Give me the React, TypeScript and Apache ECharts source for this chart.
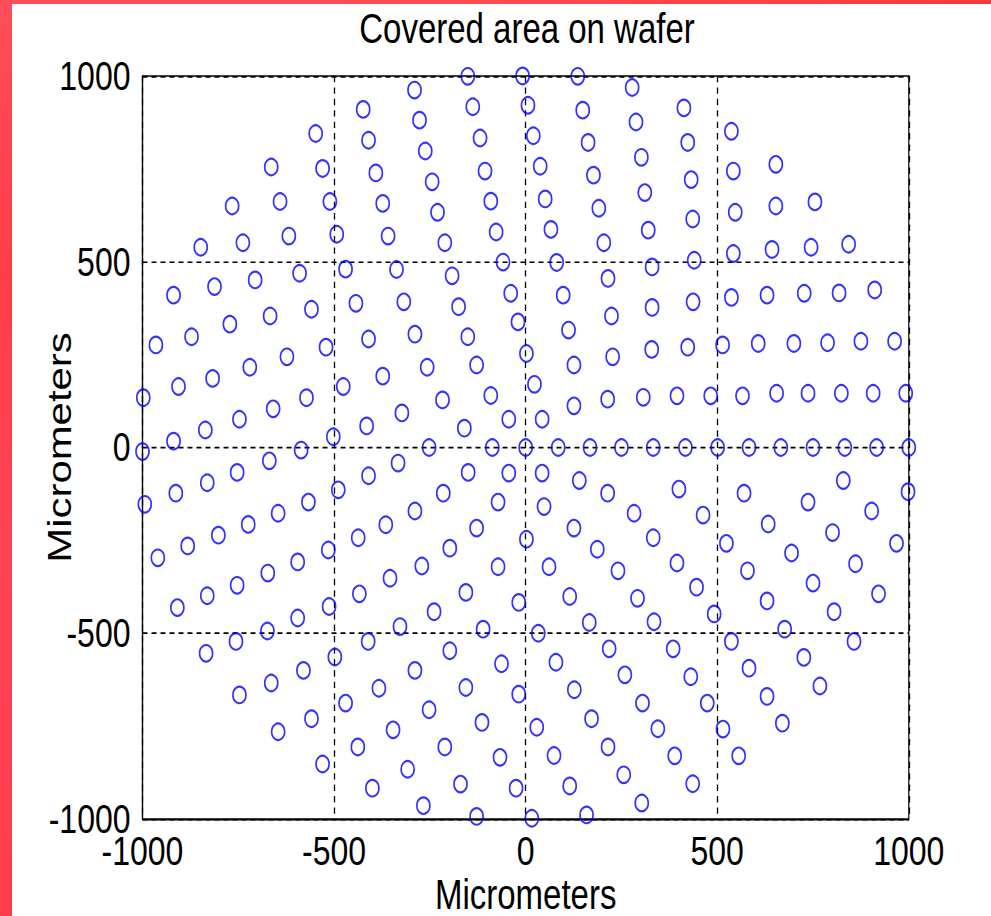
import React, { useEffect, useRef } from "react";
import * as echarts from "echarts";

// Axis ticks (micrometers)
const axisMin = -1000;
const axisMax = 1000;
const axisStep = 500;

// Point positions in micrometers, grouped by vertical band
const upperPoints: number[][] = [
  [-424, 910], [-548, 845], [-410, 827], [-664, 755], [-530, 751], [-391, 739], [-766, 650], [-641, 662], [-511, 662], [-373, 657],
  [-848, 539], [-738, 551], [-618, 569], [-493, 574], [-359, 569], [-919, 410], [-812, 433], [-706, 451], [-590, 469], [-470, 480],
  [-337, 479], [-443, 388], [-559, 372], [-667, 354], [-772, 332], [-151, 999], [-8, 1000], [136, 999], [278, 969], [-290, 962],
  [-138, 917], [6, 921], [149, 908], [288, 876], [-277, 881], [-119, 833], [20, 839], [163, 821], [302, 781], [-262, 798],
  [-106, 744], [38, 757], [177, 733], [311, 686], [-244, 715], [-91, 663], [51, 669], [191, 644], [320, 585], [-230, 633],
  [-77, 580], [66, 587], [204, 551], [-211, 551], [-59, 499], [81, 498], [330, 486], [-192, 462], [-39, 415], [98, 410],
  [215, 455], [-318, 392], [-175, 379], [-20, 338], [224, 354], [330, 377], [413, 914], [537, 851], [423, 821], [653, 762],
  [542, 744], [432, 721], [755, 661], [653, 650], [547, 633], [436, 615], [843, 547], [745, 539], [643, 533], [542, 522],
  [440, 504], [911, 424], [818, 416], [727, 415], [630, 410], [537, 404], [437, 392],
];

const middlePoints: number[][] = [
  [-965, 276], [-872, 298], [-521, 270], [-410, 292], [-906, 164], [-817, 186], [-720, 216], [-623, 244], [-476, 164], [-373, 192],
  [-998, 134], [-572, 134], [-659, 104], [-747, 76], [-836, 47], [-919, 17], [-1000, -11], [-586, -7], [-502, 29], [-415, 58],
  [-323, 93], [-669, -36], [-753, -67], [-831, -95], [-913, -123], [-994, -153], [-489, -114], [-410, -76], [-333, -42], [-567, -147],
  [-646, -177], [-724, -207], [-802, -236], [-882, -265], [-960, -297], [-365, -208], [-437, -243], [-515, -276], [-595, -308], [-673, -338],
  [-289, 305], [-151, 298], [112, 316], [329, 264], [-257, 216], [-128, 222], [2, 253], [126, 222], [227, 244], [-217, 128],
  [-91, 140], [23, 170], [126, 112], [214, 130], [307, 135], [-160, 52], [-44, 76], [43, 76], [-252, 0], [-87, 0],
  [0, 0], [85, 0], [168, 0], [250, 0], [333, 0], [-150, -67], [-44, -69], [43, -69], [140, -89], [214, -123],
  [-215, -123], [-72, -147], [48, -159], [283, -177], [-289, -171], [-128, -217], [2, -247], [126, -217], [333, -243], [-198, -271],
  [187, -274], [-271, -319], [-72, -321], [61, -321], [241, -332], [423, 270], [514, 276], [607, 280], [700, 280], [788, 282],
  [875, 286], [963, 286], [395, 139], [483, 139], [566, 139], [655, 146], [737, 146], [824, 146], [907, 146], [992, 146],
  [417, 0], [501, 0], [583, 0], [666, 0], [750, 0], [833, 0], [916, 0], [1000, 0], [400, -112], [570, -123],
  [829, -89], [998, -119], [463, -182], [737, -147], [903, -171], [633, -206], [801, -229], [524, -258], [968, -258], [694, -284],
  [395, -311], [579, -332], [861, -313],
];

const lowerPoints: number[][] = [
  [-909, -431], [-831, -399], [-753, -371], [-513, -428], [-434, -394], [-354, -352], [-595, -459], [-674, -494], [-756, -522], [-834, -554],
  [-328, -482], [-411, -522], [-498, -564], [-580, -600], [-664, -634], [-747, -666], [-383, -648], [-470, -688], [-559, -730], [-646, -765],
  [-346, -760], [-438, -806], [-530, -852], [-400, -917], [-308, -866], [-156, -390], [-18, -417], [115, -401], [292, -406], [-239, -442],
  [-111, -489], [33, -500], [166, -471], [335, -469], [-198, -547], [-63, -582], [79, -578], [218, -542], [-289, -600], [-156, -646],
  [-18, -664], [127, -652], [259, -612], [-252, -706], [-114, -740], [29, -753], [172, -730], [305, -688], [-211, -806], [-67, -834],
  [74, -829], [215, -806], [345, -757], [-170, -906], [-25, -917], [115, -911], [256, -881], [-267, -964], [-128, -993], [16, -998],
  [159, -989], [303, -957], [446, -376], [750, -365], [921, -394], [630, -413], [805, -442], [492, -448], [676, -489], [537, -522],
  [857, -522], [385, -542], [726, -565], [583, -594], [431, -617], [768, -642], [630, -670], [474, -688], [670, -742], [515, -758],
  [556, -830], [389, -830], [436, -905],
];

const titleText = "Covered area on wafer";
const axisTitle = "Micrometers";

const PAGE_W = 991;
const PAGE_H = 916;
const STRETCH = 1.27; // the reference is stretched vertically
const CHART_H = 721;

const FONT = "'Liberation Sans', Arial, sans-serif";

const plainNumber = (v: number) => String(v);

export default function App() {
  const ref = useRef<HTMLDivElement>(null);

  useEffect(() => {
    if (!ref.current) return;
    const chart = echarts.init(ref.current, null, { renderer: "svg" });
    const allPoints = [...upperPoints, ...middlePoints, ...lowerPoints];
    const axisCommon = {
      type: "value",
      min: axisMin,
      max: axisMax,
      interval: axisStep,
      axisLine: { show: true, onZero: false, lineStyle: { color: "#000", width: 1.2 } },
      axisTick: { show: false },
      splitLine: {
        show: true,
        lineStyle: { color: "#000", width: 1.3, type: [5, 4] },
      },
      name: axisTitle,
      nameLocation: "middle",
      nameMoveOverlap: false,
      nameTextStyle: { color: "#000", fontSize: 33, fontFamily: FONT },
    };
    chart.setOption({
      animation: false,
      backgroundColor: "#fff",
      title: {
        text: titleText,
        left: 522,
        textAlign: "center",
        top: 1,
        textStyle: { color: "#000", fontSize: 33, fontWeight: "normal", fontFamily: FONT, lineHeight: 33 },
      },
      grid: {
        left: 142.5,
        right: 82.2,
        top: 59.8,
        bottom: 76.1,
        show: true,
        borderColor: "#000",
        borderWidth: 1.2,
        containLabel: false,
        outerBoundsMode: "none",
      },
      xAxis: {
        ...axisCommon,
        nameGap: 43,
        axisLabel: {
          color: "#000",
          fontSize: 32,
          fontFamily: FONT,
          margin: 14,
          lineHeight: 22,
          formatter: plainNumber,
        },
      },
      yAxis: {
        ...axisCommon,
        nameGap: 66,
        axisLabel: {
          color: "#000",
          fontSize: 32,
          fontFamily: FONT,
          margin: 12,
          lineHeight: 22,
          formatter: plainNumber,
        },
      },
      series: [
        {
          type: "scatter",
          data: allPoints,
          clip: false,
          symbol: "circle",
          symbolSize: 13,
          itemStyle: { color: "rgba(0,0,0,0)", borderColor: "#0000ff", borderWidth: 1.7 },
        },
      ],
    });
    return () => chart.dispose();
  }, []);

  return (
    <div
      style={{
        position: "fixed",
        left: 0,
        top: 0,
        width: PAGE_W,
        height: PAGE_H,
        background: "#fff",
        overflow: "hidden",
      }}
    >
      <div
        ref={ref}
        style={{
          position: "absolute",
          left: 0,
          top: 0,
          width: PAGE_W,
          height: CHART_H,
          transform: `scaleY(${STRETCH})`,
          transformOrigin: "0 0",
        }}
      />
      <div
        style={{
          position: "absolute",
          left: 0,
          top: 0,
          width: 12,
          height: PAGE_H,
          background: "linear-gradient(180deg, #ff4d5a 0%, #ff3d48 30%, #ff4458 60%, #ff3c4c 100%)",
        }}
      />
      <div
        style={{
          position: "absolute",
          left: 0,
          top: 0,
          width: PAGE_W,
          height: 4,
          background: "linear-gradient(90deg, #ff4d5a 0%, #ff4a52 50%, #ff3838 100%)",
        }}
      />
    </div>
  );
}
